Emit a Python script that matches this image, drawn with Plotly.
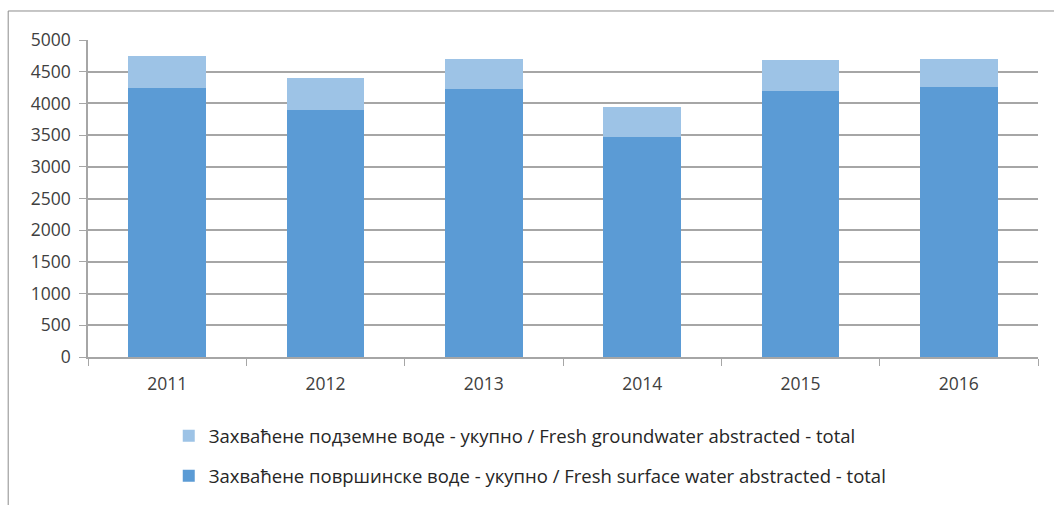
import plotly.graph_objects as go

years = ["2011", "2012", "2013", "2014", "2015", "2016"]
surface = [4242, 3900, 4222, 3473, 4199, 4263]
ground = [505, 505, 483, 464, 490, 442]

name_ground = "Захваћене подземне воде - укупно / Fresh groundwater abstracted - total"
name_surface = "Захваћене површинске воде - укупно / Fresh surface water abstracted - total"

font = "Open Sans, Arial, sans-serif"
gray = "#A6A6A6"

fig = go.Figure()
fig.add_trace(go.Bar(x=years, y=surface, name=name_surface, legendgroup="s", legendrank=2,
                     marker=dict(color="#5B9BD5", line=dict(width=0))))
fig.add_trace(go.Bar(x=years, y=ground, name=name_ground, legendgroup="g", legendrank=1,
                     marker=dict(color="#9DC3E6", line=dict(width=0))))

fig.update_layout(
    barmode="stack",
    bargap=0.51,
    width=1054, height=505,
    margin=dict(l=88, r=16, t=40, b=148),
    paper_bgcolor="white", plot_bgcolor="white",
    font=dict(family=font, size=17, color="#404040"),
    legend=dict(orientation="v", x=0.085, xanchor="left",
                yref="container", y=0.174, yanchor="top",
                traceorder="grouped", tracegroupgap=13,
                font=dict(size=18.5, color="#262626")),
    shapes=[
        dict(type="line", xref="paper", yref="paper", x0=-0.084, x1=1.2,
             y0=1.0915, y1=1.0915, line=dict(color="#8C8C8C", width=1)),
        dict(type="line", xref="paper", yref="paper", x0=-0.084, x1=-0.084,
             y0=1.0915, y1=-0.7, line=dict(color="#8C8C8C", width=1)),
    ],
)
fig.update_yaxes(range=[0, 5000], dtick=500, showgrid=True, gridcolor=gray, gridwidth=1.5,
                 showline=True, linecolor=gray, linewidth=1.5, automargin=False,
                 ticks="outside", ticklen=7, tickcolor=gray, ticklabelstandoff=5,
                 tickfont=dict(size=17.5, color="#404040"), zeroline=False)
fig.update_xaxes(showline=True, linecolor=gray, linewidth=1.5, automargin=False,
                 ticks="outside", ticklen=7, tickcolor=gray, tickson="boundaries",
                 ticklabelstandoff=10, tickfont=dict(size=17.5, color="#404040"))

fig.write_html("out.html", config={"displayModeBar": False},
               post_script="document.body.style.margin='0';")
